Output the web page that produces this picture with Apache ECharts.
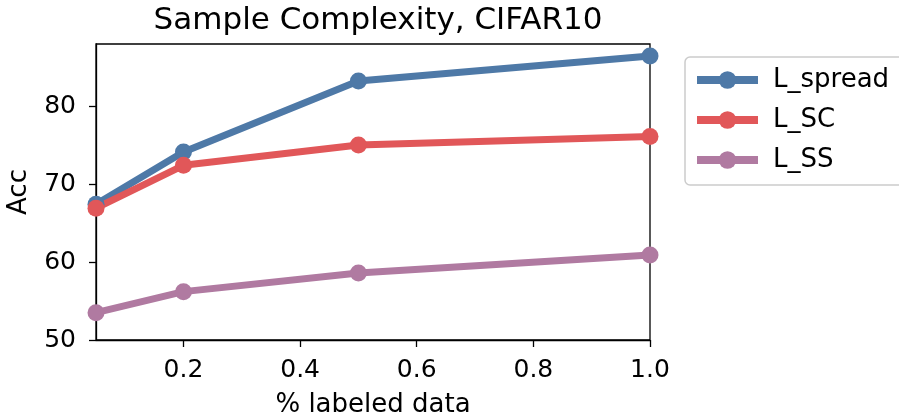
<!DOCTYPE html>
<html><head><meta charset="utf-8">
<script src="https://cdn.jsdelivr.net/npm/echarts@6/dist/echarts.min.js"></script>
<style>html,body{margin:0;padding:0;background:#fff}#c{width:899px;height:419px}</style>
</head><body><div id="c"></div>
<script>
const xValues = [0.05, 0.2, 0.5, 1.0];
const lSpread = [67.4, 74.1, 83.2, 86.4];
const lSC = [66.9, 72.4, 75.0, 76.1];
const lSS = [53.5, 56.2, 58.6, 60.9];
const xTicks = [0.2, 0.4, 0.6, 0.8, 1.0];
const yTicks = [50, 60, 70, 80];
const seriesNames = ['L_spread', 'L_SC', 'L_SS'];
const colors = ['#4e79a7', '#e15759', '#b07aa1'];

const font = 'DejaVu Sans';
const chart = echarts.init(document.getElementById('c'), null, {renderer: 'canvas'});
const mk = (name, vals, color) => ({
  name, type: 'line', data: xValues.map((x, i) => [x, vals[i]]),
  lineStyle: {width: 7, color}, itemStyle: {color},
  symbol: 'circle', symbolSize: 17, showSymbol: true, clip: false, z: 3
});
chart.setOption({
  animation: false,
  textStyle: {fontFamily: font, color: '#000'},
  title: {text: 'Sample Complexity, CIFAR10', left: 373, textAlign: 'center', top: 0,
    textStyle: {fontFamily: font, fontSize: 31, fontWeight: 'normal', color: '#000'}},
  grid: {left: 96, top: 44, width: 554, height: 296, show: true, borderColor: '#000', borderWidth: 1.3,
    backgroundColor: 'transparent', containLabel: false, outerBoundsMode: 'none'},
  legend: {orient: 'vertical', left: 685, top: 57, itemWidth: 61, itemHeight: 22, itemGap: 14,
    padding: [10, 30, 12, 8], borderColor: '#cccccc', borderWidth: 1.5, borderRadius: 5,
    lineStyle: {width: 8},
    textStyle: {fontFamily: font, fontSize: 26, color: '#000', padding: [0, 0, 0, 10]}, data: seriesNames},
  xAxis: {type: 'value', min: 0.05, max: 1.0,
    name: '% labeled data', nameLocation: 'middle', nameGap: 52,
    nameTextStyle: {fontFamily: font, fontSize: 26, color: '#000'},
    axisLine: {show: true, onZero: false, lineStyle: {color: '#000', width: 1.3}},
    axisTick: {show: true, length: 7, lineStyle: {color: '#000', width: 1.3}, customValues: xTicks},
    axisLabel: {fontFamily: font, fontSize: 25, color: '#000', margin: 18, customValues: xTicks, formatter: v => v.toFixed(1)},
    splitLine: {show: false}},
  yAxis: {type: 'value', min: 50, max: 87.95,
    name: 'Acc', nameLocation: 'middle', nameGap: 64, nameRotate: 90,
    nameTextStyle: {fontFamily: font, fontSize: 26, color: '#000'},
    axisLine: {show: true, onZero: false, lineStyle: {color: '#000', width: 1.3}},
    axisTick: {show: true, length: 7, lineStyle: {color: '#000', width: 1.3}, customValues: yTicks},
    axisLabel: {fontFamily: font, fontSize: 25, color: '#000', margin: 20, customValues: yTicks},
    splitLine: {show: false}},
  series: [mk(seriesNames[0], lSpread, colors[0]), mk(seriesNames[1], lSC, colors[1]), mk(seriesNames[2], lSS, colors[2])]
});
</script></body></html>
